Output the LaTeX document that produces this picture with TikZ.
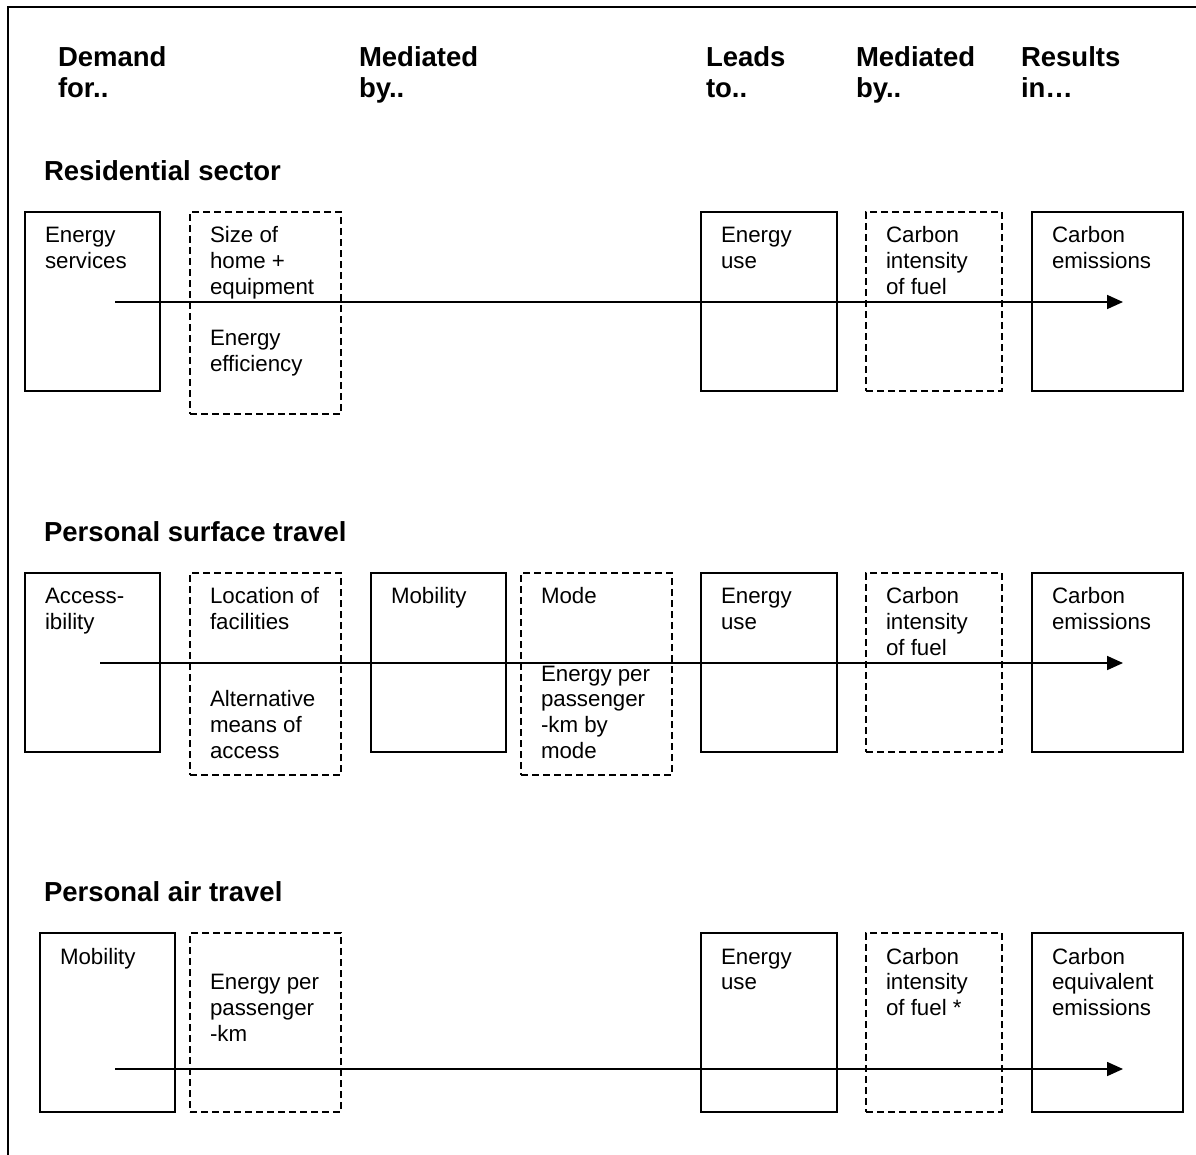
\documentclass[tikz,border=0pt]{standalone}
\usepackage{fontspec}
\setmainfont{Liberation Sans}
\usetikzlibrary{arrows.meta}
\newcommand\firstl{\rule{0pt}{18pt}}
\newcommand\firsth{\rule{0pt}{21pt}}
\begin{document}
\begin{tikzpicture}[x=1pt,y=-1pt,
  box/.style={draw, line width=1.8pt, inner sep=0pt, outer sep=0pt, anchor=north west},
  dbox/.style={box, line width=1.6pt, dash pattern=on 7pt off 4pt},
  txt/.style={anchor=north west, inner sep=0pt, outer sep=0pt, align=left, font=\fontsize{22.3}{25.8}\selectfont},
  hdr/.style={anchor=north west, inner sep=0pt, outer sep=0pt, align=left, font=\fontsize{27.5}{31}\selectfont\bfseries},
  flow/.style={line width=1.7pt, -{Triangle[length=16pt,width=14pt]}},
  frame/.style={line width=2.2pt}]
\clip (0,0) rectangle (1196,1154);
\useasboundingbox (0,0) rectangle (1196,1154);
% outer frame (only top and left edges visible)
\coordinate (fbl) at (8,1170);
\coordinate (ftl) at (8,7);
\coordinate (ftr) at (1210,7);
\draw[frame] (fbl) -- (ftl) -- (ftr);

% headers
\node[hdr] (h1) at (58,45) {\firsth Demand\\for..};
\node[hdr] (h2) at (359,45) {\firsth Mediated\\by..};
\node[hdr] (h3) at (706,45) {\firsth Leads\\to..};
\node[hdr] (h4) at (856,45) {\firsth Mediated\\by..};
\node[hdr] (h5) at (1021,45) {\firsth Results\\in…};

% section titles
\node[hdr] (s1) at (44,159) {\firsth Residential sector};
\node[hdr] (s2) at (44,520) {\firsth Personal surface travel};
\node[hdr] (s3) at (44,880) {\firsth Personal air travel};

% ---------- Row 1 ----------
\node[box,  minimum width=135pt, minimum height=179pt] (r1a) at (25,212) {};
\node[dbox, minimum width=151pt, minimum height=202pt] (r1b) at (190,212) {};
\node[box,  minimum width=136pt, minimum height=179pt] (r1c) at (701,212) {};
\node[dbox, minimum width=136pt, minimum height=179pt] (r1d) at (866,212) {};
\node[box,  minimum width=151pt, minimum height=179pt] (r1e) at (1032,212) {};
\node[txt] (t1a) at (45,224.7) {\firstl Energy\\services};
\node[txt] (t1b) at (210,224.7) {\firstl Size of\\home +\\equipment\\[25.8pt]Energy\\efficiency};
\node[txt] (t1c) at (721,224.7) {\firstl Energy\\use};
\node[txt] (t1d) at (886,224.7) {\firstl Carbon\\intensity\\of fuel};
\node[txt] (t1e) at (1052,224.7) {\firstl Carbon\\emissions};
\coordinate (a1s) at (115,302);
\coordinate (a1e) at (1123,302);
\draw[flow] (a1s) -- (a1e);

% ---------- Row 2 ----------
\node[box,  minimum width=135pt, minimum height=179pt] (r2a) at (25,573) {};
\node[dbox, minimum width=151pt, minimum height=202pt] (r2b) at (190,573) {};
\node[box,  minimum width=135pt, minimum height=179pt] (r2c) at (371,573) {};
\node[dbox, minimum width=151pt, minimum height=202pt] (r2d) at (521,573) {};
\node[box,  minimum width=136pt, minimum height=179pt] (r2e) at (701,573) {};
\node[dbox, minimum width=136pt, minimum height=179pt] (r2f) at (866,573) {};
\node[box,  minimum width=151pt, minimum height=179pt] (r2g) at (1032,573) {};
\node[txt] (t2a) at (45,585.7) {\firstl Access-\\ibility};
\node[txt] (t2b) at (210,585.7) {\firstl Location of\\facilities\\[51.6pt]Alternative\\means of\\access};
\node[txt] (t2c) at (391,585.7) {\firstl Mobility};
\node[txt] (t2d) at (541,585.7) {\firstl Mode\\[51.6pt]Energy per\\passenger\\-km by\\mode};
\node[txt] (t2e) at (721,585.7) {\firstl Energy\\use};
\node[txt] (t2f) at (886,585.7) {\firstl Carbon\\intensity\\of fuel};
\node[txt] (t2g) at (1052,585.7) {\firstl Carbon\\emissions};
\coordinate (a2s) at (100,663);
\coordinate (a2e) at (1123,663);
\draw[flow] (a2s) -- (a2e);

% ---------- Row 3 ----------
\node[box,  minimum width=135pt, minimum height=179pt] (r3a) at (40,933) {};
\node[dbox, minimum width=151pt, minimum height=179pt] (r3b) at (190,933) {};
\node[box,  minimum width=136pt, minimum height=179pt] (r3c) at (701,933) {};
\node[dbox, minimum width=136pt, minimum height=179pt] (r3d) at (866,933) {};
\node[box,  minimum width=151pt, minimum height=179pt] (r3e) at (1032,933) {};
\node[txt] (t3a) at (60,946) {\firstl Mobility};
\node[txt] (t3b) at (210,971.8) {\firstl Energy per\\passenger\\-km};
\node[txt] (t3c) at (721,946) {\firstl Energy\\use};
\node[txt] (t3d) at (886,946) {\firstl Carbon\\intensity\\of fuel *};
\node[txt] (t3e) at (1052,946) {\firstl Carbon\\equivalent\\emissions};
\coordinate (a3s) at (115,1069);
\coordinate (a3e) at (1123,1069);
\draw[flow] (a3s) -- (a3e);
\end{tikzpicture}
\end{document}
